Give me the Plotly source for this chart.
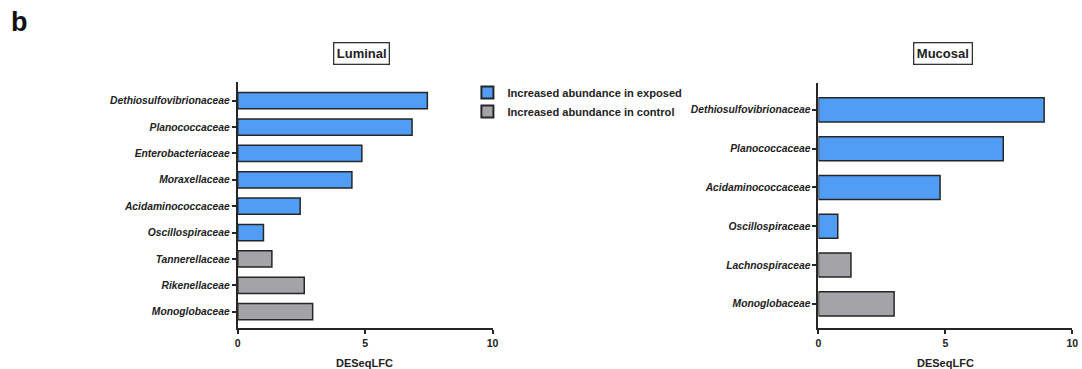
import plotly.graph_objects as go

W, H = 1082, 369

# Luminal panel data (top to bottom)
lum_exposed_cats = ["Dethiosulfovibrionaceae", "Planococcaceae", "Enterobacteriaceae",
                    "Moraxellaceae", "Acidaminococcaceae", "Oscillospiraceae"]
lum_exposed_vals = [7.44, 6.84, 4.87, 4.48, 2.45, 1.01]
lum_control_cats = ["Tannerellaceae", "Rikenellaceae", "Monoglobaceae"]
lum_control_vals = [1.34, 2.61, 2.94]

# Mucosal panel data (top to bottom)
muc_exposed_cats = ["Dethiosulfovibrionaceae", "Planococcaceae", "Acidaminococcaceae", "Oscillospiraceae"]
muc_exposed_vals = [8.89, 7.28, 4.79, 0.76]
muc_control_cats = ["Lachnospiraceae", "Monoglobaceae"]
muc_control_vals = [1.28, 2.98]

x_ticks = [0, 5, 10]
legend_names = ["Increased abundance in exposed", "Increased abundance in control"]

BLUE = "#519df6"
GREY = "#a3a3a8"
EDGE = "#262626"
TXT = "#222222"
FONT = "Liberation Sans, Arial, sans-serif"

def px_x(p):
    return p / W

def px_y(p):
    return 1 - p / H

fig = go.Figure()

fig.add_trace(go.Bar(y=lum_exposed_cats, x=lum_exposed_vals, orientation="h",
                     marker=dict(color=BLUE, line=dict(color=EDGE, width=1.5)),
                     width=0.62, name=legend_names[0], xaxis="x", yaxis="y", showlegend=True))
fig.add_trace(go.Bar(y=lum_control_cats, x=lum_control_vals, orientation="h",
                     marker=dict(color=GREY, line=dict(color=EDGE, width=1.5)),
                     width=0.62, name=legend_names[1], xaxis="x", yaxis="y", showlegend=True))
fig.add_trace(go.Bar(y=muc_exposed_cats, x=muc_exposed_vals, orientation="h",
                     marker=dict(color=BLUE, line=dict(color=EDGE, width=1.5)),
                     width=0.62, name=legend_names[0], xaxis="x2", yaxis="y2", showlegend=False))
fig.add_trace(go.Bar(y=muc_control_cats, x=muc_control_vals, orientation="h",
                     marker=dict(color=GREY, line=dict(color=EDGE, width=1.5)),
                     width=0.62, name=legend_names[1], xaxis="x2", yaxis="y2", showlegend=False))

lum_order = list(reversed(lum_exposed_cats + lum_control_cats))
muc_order = list(reversed(muc_exposed_cats + muc_control_cats))

tickfont = dict(family=FONT, size=10.3, color=TXT, weight="bold", style="italic")
xtickfont = dict(family=FONT, size=10.5, color=TXT, weight="bold")

common_x = dict(range=[0, 10], tickvals=x_ticks, ticks="outside", ticklen=4, tickwidth=1.8,
                tickcolor=EDGE, showline=True, linecolor=EDGE, linewidth=2, showgrid=False,
                zeroline=False, tickfont=xtickfont, fixedrange=True)
common_y = dict(type="category", ticks="outside", ticklen=4, tickwidth=1.8, tickcolor=EDGE,
                showline=True, linecolor=EDGE, linewidth=2, showgrid=False, zeroline=False,
                tickfont=tickfont, categoryorder="array", fixedrange=True)

fig.update_layout(
    width=W, height=H,
    margin=dict(l=0, r=0, t=0, b=0),
    paper_bgcolor="white", plot_bgcolor="white",
    barmode="overlay",
    xaxis=dict(domain=[px_x(236.7), px_x(493.7)], anchor="y", **common_x),
    yaxis=dict(domain=[px_y(328.3), px_y(81.7)], anchor="x", categoryarray=lum_order,
               range=[-0.63, 8.72], **common_y),
    xaxis2=dict(domain=[px_x(822.3), px_x(1078.3)], anchor="y2", **common_x),
    yaxis2=dict(domain=[px_y(328.3), px_y(82.7)], anchor="x2", categoryarray=muc_order,
                range=[-0.63, 5.70], **common_y),
    legend=dict(x=px_x(468.3), y=px_y(78), xanchor="left", yanchor="top",
                font=dict(family=FONT, size=11.1, color=TXT, weight="bold"),
                bgcolor="rgba(0,0,0,0)", itemsizing="constant", tracegroupgap=0),
    showlegend=True,
)

annotations = [
    dict(text="b", x=px_x(16.5), y=px_y(22), xref="paper", yref="paper", showarrow=False,
         xanchor="center", yanchor="middle",
         font=dict(family=FONT, size=27, color="#111111", weight="bold")),
    dict(text="Luminal", x=px_x(361.7), y=px_y(53.5), xref="paper", yref="paper", showarrow=False,
         xanchor="center", yanchor="middle",
         font=dict(family=FONT, size=13, color=TXT, weight="bold"),
         bordercolor="#333333", borderwidth=1.3, borderpad=2.5, bgcolor="white"),
    dict(text="Mucosal", x=px_x(948.3), y=px_y(53.5), xref="paper", yref="paper", showarrow=False,
         xanchor="center", yanchor="middle",
         font=dict(family=FONT, size=13, color=TXT, weight="bold"),
         bordercolor="#333333", borderwidth=1.3, borderpad=2.5, bgcolor="white"),
    dict(text="DESeqLFC", x=px_x(365), y=px_y(363), xref="paper", yref="paper", showarrow=False,
         xanchor="center", yanchor="middle",
         font=dict(family=FONT, size=11, color=TXT, weight="bold")),
    dict(text="DESeqLFC", x=px_x(950.3), y=px_y(363), xref="paper", yref="paper", showarrow=False,
         xanchor="center", yanchor="middle",
         font=dict(family=FONT, size=11, color=TXT, weight="bold")),
]
fig.update_layout(annotations=annotations)

fig.write_html("out.html", config={"displayModeBar": False},
               post_script="document.body.style.margin='0';")
